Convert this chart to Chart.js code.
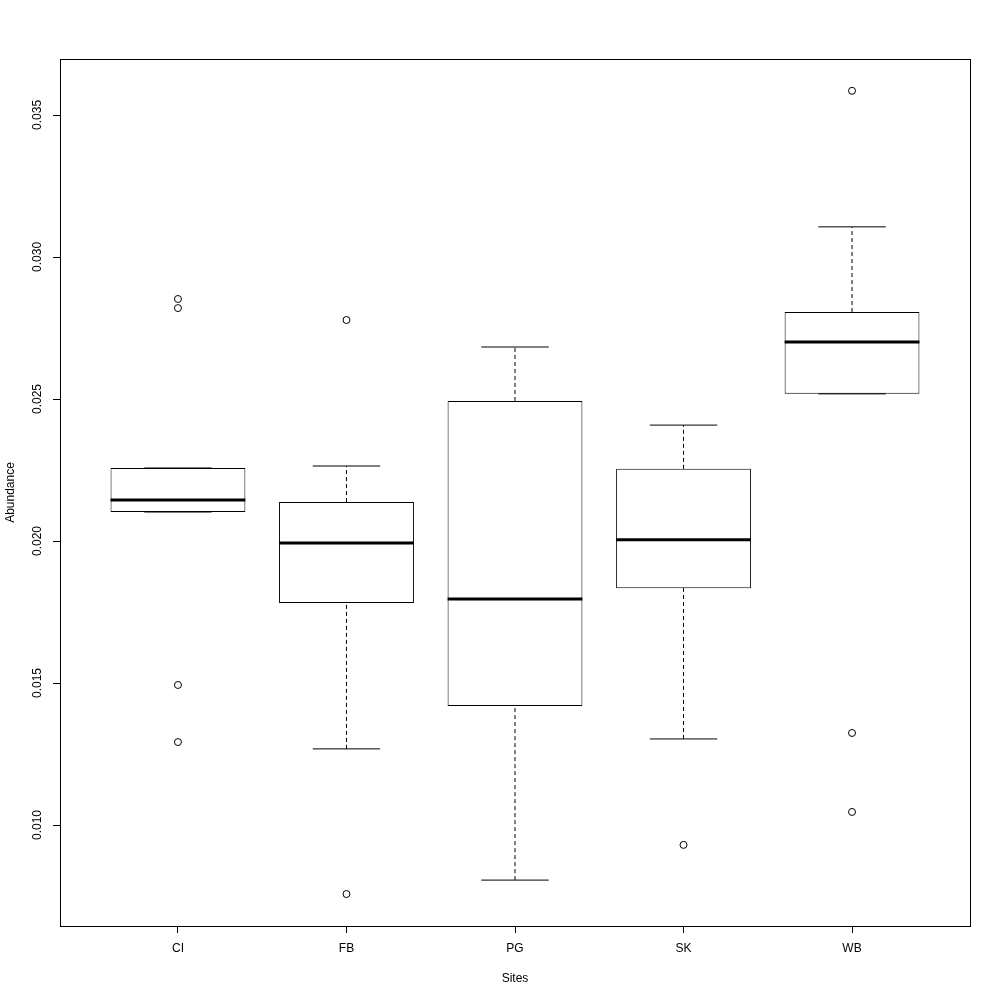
<!DOCTYPE html>
<html>
<head>
<meta charset="utf-8">
<script src="https://cdn.jsdelivr.net/npm/chart.js@4.4.0/dist/chart.umd.min.js"></script>
<style>
html,body{margin:0;padding:0;background:#fff;}
#wrap{width:1000px;height:1000px;}
</style>
</head>
<body>
<div id="wrap"><canvas id="c" width="1000" height="1000"></canvas></div>
<script>
const sites = ['CI', 'FB', 'PG', 'SK', 'WB'];
const whiskerLow = [0.02102, 0.01268, 0.00806, 0.01303, 0.02518];
const q1 = [0.02102, 0.01782, 0.01419, 0.01834, 0.02518];
const median = [0.02144, 0.01993, 0.01796, 0.02004, 0.02701];
const q3 = [0.02257, 0.02137, 0.02493, 0.02254, 0.02806];
const whiskerHigh = [0.02257, 0.02264, 0.02683, 0.02408, 0.03106];
const outliers = [
  [0.02852, 0.02820, 0.01493, 0.01292],
  [0.02778, 0.00757],
  [],
  [0.00930],
  [0.03585, 0.01324, 0.01046]
];
const yTicks = [0.010, 0.015, 0.020, 0.025, 0.030, 0.035];

const FONT = 'Liberation Sans, Arial, Helvetica, sans-serif';
const BOX_HALF = 0.4, CAP_HALF = 0.2;

function segs(fn) {
  const out = [];
  sites.forEach((s, i) => {
    fn(i).forEach(p => out.push(p));
    out.push({x: i + 1, y: null});
  });
  return out;
}

const boxData = sites.map((s, i) => ({x: i + 1, y: [q1[i], q3[i]]}));
const medData = segs(i => [{x: i + 1 - BOX_HALF, y: median[i]}, {x: i + 1 + BOX_HALF, y: median[i]}]);
const whiskData = segs(i => [{x: i + 1, y: whiskerLow[i]}, {x: i + 1, y: q1[i]}, {x: i + 1, y: null}, {x: i + 1, y: q3[i]}, {x: i + 1, y: whiskerHigh[i]}]);
const capData = segs(i => [{x: i + 1 - CAP_HALF, y: whiskerLow[i]}, {x: i + 1 + CAP_HALF, y: whiskerLow[i]}, {x: i + 1, y: null}, {x: i + 1 - CAP_HALF, y: whiskerHigh[i]}, {x: i + 1 + CAP_HALF, y: whiskerHigh[i]}]);
const outData = [];
outliers.forEach((arr, i) => arr.forEach(v => outData.push({x: i + 1, y: v})));

const framePlugin = {
  id: 'frame',
  afterDraw(chart) {
    const a = chart.chartArea, ctx = chart.ctx;
    const ys = chart.scales.y;
    ctx.save();
    ctx.strokeStyle = '#000';
    ctx.lineWidth = 1;
    ctx.strokeRect(Math.round(a.left) + 0.5, Math.round(a.top) + 0.5, Math.round(a.right - a.left), Math.round(a.bottom - a.top));
    ctx.beginPath();
    yTicks.forEach(v => {
      const py = Math.round(ys.getPixelForValue(v)) + 0.5;
      ctx.moveTo(Math.round(a.left) - 7, py);
      ctx.lineTo(Math.round(a.left), py);
    });
    ctx.stroke();
    ctx.restore();
  }
};

new Chart(document.getElementById('c'), {
  type: 'bar',
  data: {
    datasets: [
      {type: 'line', data: whiskData, borderColor: '#000', borderWidth: 1, borderDash: [4, 3], pointRadius: 0, spanGaps: false, order: 3},
      {type: 'line', data: capData, borderColor: '#000', borderWidth: 1, pointRadius: 0, spanGaps: false, order: 3},
      {type: 'bar', data: boxData, backgroundColor: '#fff', borderColor: '#000', borderWidth: 1, borderSkipped: false, barPercentage: 0.8, categoryPercentage: 1.0, order: 2},
      {type: 'line', data: medData, borderColor: '#000', borderWidth: 3, pointRadius: 0, spanGaps: false, order: 1, borderCapStyle: 'butt'},
      {type: 'line', data: outData, showLine: false, pointRadius: 3.5, pointBorderWidth: 1, pointBorderColor: '#000', pointBackgroundColor: 'rgba(0,0,0,0)', order: 0}
    ]
  },
  options: {
    responsive: false,
    animation: false,
    events: [],
    layout: {padding: {top: 59, right: 30, left: 0, bottom: 0}},
    plugins: {legend: {display: false}, tooltip: {enabled: false}},
    scales: {
      x: {
        type: 'linear',
        min: 0.3, max: 5.7,
        offset: false,
        afterBuildTicks(axis) { axis.ticks = sites.map((s, i) => ({value: i + 1})); },
        afterFit(axis) { axis.height = 74; },
        ticks: {callback: v => sites[Math.round(v) - 1], color: '#000', font: {family: FONT, size: 12}, padding: 8, maxRotation: 0, autoSkip: false},
        grid: {display: true, offset: false, drawOnChartArea: false, drawTicks: true, tickLength: 7, color: '#000'},
        border: {display: false},
        title: {display: true, text: 'Sites', color: '#000', font: {family: FONT, size: 12}, padding: {top: 4, bottom: 14}}
      },
      y: {
        type: 'linear',
        min: 0.006444, max: 0.03697,
        afterBuildTicks(axis) { axis.ticks = yTicks.map(v => ({value: v})); },
        afterFit(axis) { axis.width = 60; },
        ticks: {callback: v => v.toFixed(3), color: '#000', font: {family: FONT, size: 12}, padding: 0, minRotation: 90, maxRotation: 90, crossAlign: 'center'},
        grid: {display: false, drawOnChartArea: false, drawTicks: true, tickLength: 7, color: '#000'},
        border: {display: false},
        title: {display: true, text: 'Abundance', color: '#000', font: {family: FONT, size: 12}, padding: {top: 3, bottom: 0}}
      }
    }
  },
  plugins: [framePlugin]
});
</script>
</body>
</html>
